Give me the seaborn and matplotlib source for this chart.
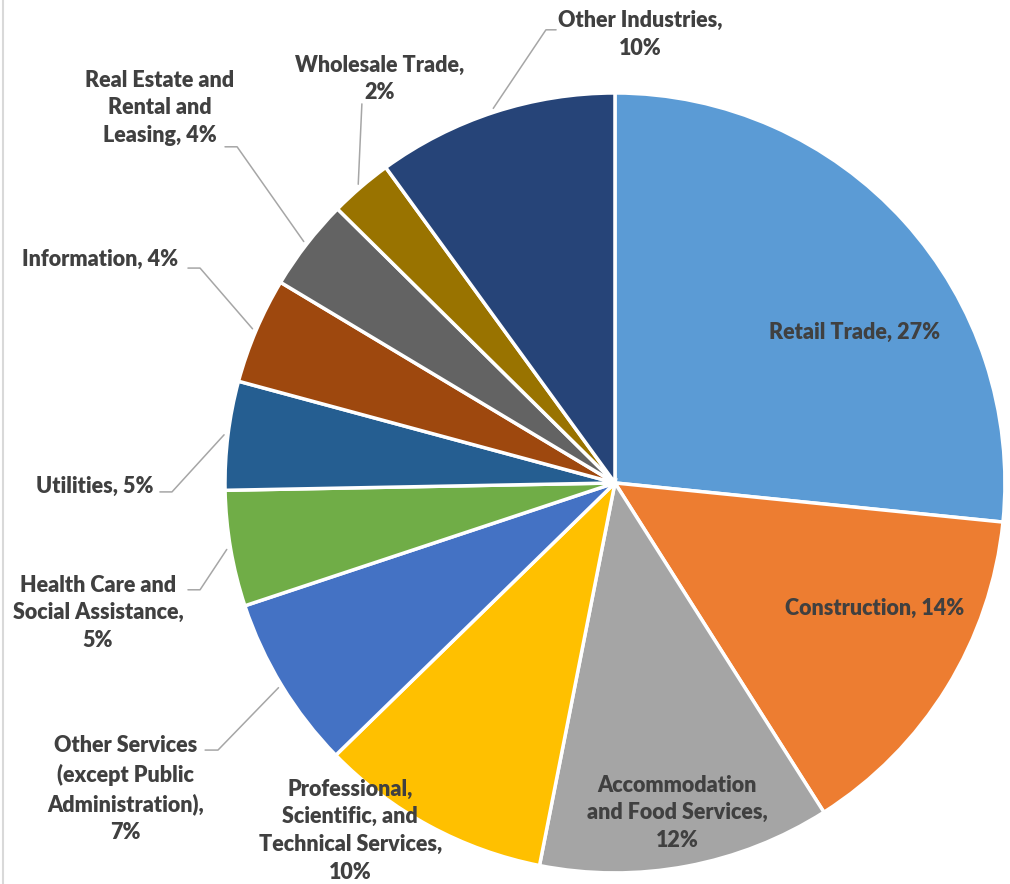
import matplotlib
matplotlib.use("Agg")
import matplotlib.pyplot as plt
import seaborn as sns
import numpy as np
from matplotlib.lines import Line2D

sns.set_theme(style="white")
plt.rcParams['font.family'] = ['Lato', 'DejaVu Sans']

# data (share of businesses by industry)
industries = ["Retail Trade", "Construction", "Accommodation\nand Food Services",
              "Professional,\nScientific, and\nTechnical Services",
              "Other Services\n(except Public\nAdministration)",
              "Health Care and\nSocial Assistance", "Utilities", "Information",
              "Real Estate and\nRental and\nLeasing", "Wholesale Trade", "Other Industries"]
shares = [26.6, 14.4, 12.1, 9.6, 7.2, 4.8, 4.5, 4.4, 3.8, 2.6, 10.0]
pct_shown = [27, 14, 12, 10, 7, 5, 5, 4, 4, 2, 10]
# separator between name and percent as it appears in the chart
pct_sep = [", ", ", ", ",\n", ",\n", ",\n", ",\n", ", ", ", ", ", ", ",\n", ",\n"]

colors = ["#5B9BD5", "#ED7D31", "#A5A5A5", "#FFC000", "#4472C4", "#70AD47",
          "#255E91", "#9E480E", "#636363", "#997300", "#264478"]

# label placement (radius units) and leader elbows
label_pos = [(0.615, 0.385), (0.667, -0.321), (0.159, -0.846), (-0.679, -0.892),
             (-1.256, -0.785), (-1.326, -0.333), (-1.333, -0.010), (-1.321, 0.574),
             (-1.167, 0.962), (-0.603, 1.036), (0.064, 1.151)]
leader = [None, None, None, None,
          [(-1.018, -0.685), (-1.051, -0.685)],
          [(-1.064, -0.274), (-1.095, -0.274)],
          [(-1.136, -0.023), (-1.167, -0.023)],
          [(-1.064, 0.551), (-1.095, 0.551)],
          [(-0.969, 0.862), (-1.000, 0.862)],
          [(-0.649, 0.972)],
          [(-0.177, 1.162), (-0.151, 1.162)]]

fig = plt.figure(figsize=(10.1, 8.84), dpi=100)
ax = fig.add_axes([0, 0, 1, 1])
wedges, _ = ax.pie(shares, colors=colors, startangle=90, counterclock=False,
                   radius=1.0, wedgeprops=dict(edgecolor="white", linewidth=2.5))

for i, w in enumerate(wedges):
    txt = industries[i] + pct_sep[i] + f"{pct_shown[i]}%"
    x, y = label_pos[i]
    ax.text(x, y, txt, ha="center", va="center", fontsize=15.5, fontweight="heavy",
            color="#404040", linespacing=1.4, zorder=5)
    if leader[i] is not None:
        mid = np.deg2rad((w.theta1 + w.theta2) / 2)
        pts = [(1.01 * np.cos(mid), 1.01 * np.sin(mid))] + leader[i]
        xs, ys = zip(*pts)
        ax.plot(xs, ys, color="#A6A6A6", lw=1.1, zorder=1)

ax.set_xlim(-1.577, 1.013)
ax.set_ylim(-1.028, 1.238)
ax.set_aspect("equal")
ax.axis("off")

fig.add_artist(Line2D([0.003, 0.003], [0, 1], transform=fig.transFigure,
                      color="#D9D9D9", lw=1.5))

fig.savefig("out.png", dpi=100)
